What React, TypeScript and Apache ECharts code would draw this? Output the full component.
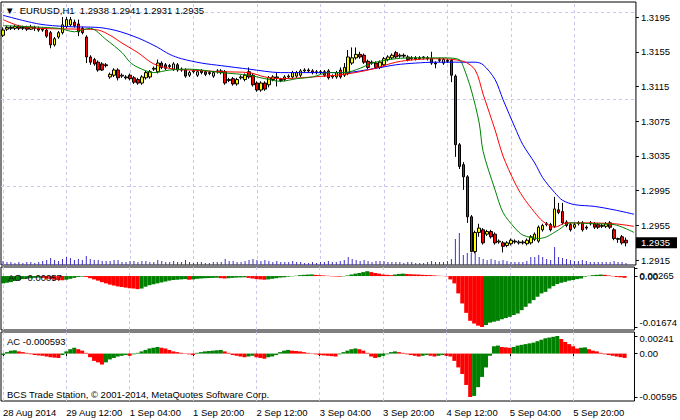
import React, { useEffect, useRef } from 'react';
import * as echarts from 'echarts';

const timeLabels = ['28 Aug 2014', '29 Aug 12:00', '1 Sep 04:00', '1 Sep 20:00', '2 Sep 12:00', '3 Sep 04:00', '3 Sep 20:00', '4 Sep 12:00', '5 Sep 04:00', '5 Sep 20:00'];
const priceTicks = [1.2915, 1.2955, 1.2995, 1.3035, 1.3075, 1.3115, 1.3155, 1.3195];
const aoTicks = [0.00265, 0, -0.01674];
const acTicks = [0.00241, 0, -0.00595];
const lastPrice = 1.2935;
const headerText = '▼  EURUSD,H1  1.2938 1.2941 1.2931 1.2935';
const aoText = 'AO -0.00057';
const acText = 'AC -0.000593';
const copyright = 'BCS Trade Station, © 2001-2014, MetaQuotes Software Corp.';

// [open, close, low, high]
const candles = [
  [1.3174, 1.3180, 1.3172, 1.3183], [1.3181, 1.3183, 1.3179, 1.3185], [1.3183, 1.3182, 1.3180, 1.3185], [1.3182, 1.3184, 1.3180, 1.3186], [1.3184, 1.3182, 1.3180, 1.3186],
  [1.3182, 1.3183, 1.3180, 1.3185], [1.3183, 1.3181, 1.3179, 1.3185], [1.3181, 1.3183, 1.3180, 1.3186], [1.3183, 1.3182, 1.3179, 1.3185], [1.3182, 1.3180, 1.3178, 1.3184],
  [1.3180, 1.3181, 1.3178, 1.3183], [1.3180, 1.3173, 1.3171, 1.3182], [1.3177, 1.3163, 1.3159, 1.3179], [1.3163, 1.3170, 1.3161, 1.3172], [1.3172, 1.3177, 1.3170, 1.3179],
  [1.3177, 1.3186, 1.3175, 1.3195], [1.3184, 1.3192, 1.3182, 1.3195], [1.3186, 1.3192, 1.3184, 1.3195], [1.3189, 1.3185, 1.3183, 1.3192], [1.3187, 1.3178, 1.3173, 1.3192],
  [1.3182, 1.3177, 1.3175, 1.3184], [1.3172, 1.3149, 1.3142, 1.3174], [1.3149, 1.3143, 1.3140, 1.3151], [1.3146, 1.3141, 1.3139, 1.3148], [1.3143, 1.3134, 1.3132, 1.3145],
  [1.3141, 1.3134, 1.3133, 1.3143], [1.3140, 1.3139, 1.3137, 1.3142], [1.3126, 1.3129, 1.3124, 1.3131], [1.3128, 1.3134, 1.3126, 1.3136], [1.3134, 1.3125, 1.3122, 1.3136],
  [1.3127, 1.3128, 1.3125, 1.3130], [1.3126, 1.3125, 1.3123, 1.3128], [1.3128, 1.3124, 1.3122, 1.3130], [1.3125, 1.3120, 1.3118, 1.3127], [1.3123, 1.3119, 1.3117, 1.3125],
  [1.3119, 1.3126, 1.3117, 1.3128], [1.3125, 1.3131, 1.3123, 1.3133], [1.3126, 1.3132, 1.3124, 1.3134], [1.3135, 1.3136, 1.3133, 1.3138], [1.3132, 1.3142, 1.3130, 1.3146],
  [1.3142, 1.3137, 1.3135, 1.3144], [1.3140, 1.3136, 1.3134, 1.3142], [1.3139, 1.3138, 1.3136, 1.3141], [1.3135, 1.3141, 1.3133, 1.3143], [1.3140, 1.3134, 1.3132, 1.3142],
  [1.3134, 1.3135, 1.3132, 1.3137], [1.3134, 1.3127, 1.3125, 1.3136], [1.3128, 1.3131, 1.3126, 1.3133], [1.3132, 1.3133, 1.3130, 1.3135], [1.3128, 1.3132, 1.3126, 1.3134],
  [1.3133, 1.3131, 1.3129, 1.3135], [1.3132, 1.3129, 1.3127, 1.3134], [1.3131, 1.3130, 1.3128, 1.3133], [1.3127, 1.3131, 1.3125, 1.3133], [1.3132, 1.3133, 1.3130, 1.3135],
  [1.3133, 1.3131, 1.3129, 1.3135], [1.3132, 1.3119, 1.3117, 1.3134], [1.3123, 1.3122, 1.3120, 1.3125], [1.3124, 1.3118, 1.3116, 1.3126], [1.3118, 1.3123, 1.3116, 1.3125],
  [1.3125, 1.3126, 1.3123, 1.3128], [1.3123, 1.3128, 1.3121, 1.3130], [1.3132, 1.3126, 1.3124, 1.3137], [1.3128, 1.3117, 1.3115, 1.3130], [1.3119, 1.3111, 1.3109, 1.3121],
  [1.3111, 1.3119, 1.3109, 1.3121], [1.3119, 1.3112, 1.3110, 1.3121], [1.3117, 1.3125, 1.3114, 1.3127], [1.3123, 1.3126, 1.3121, 1.3128], [1.3125, 1.3126, 1.3115, 1.3131],
  [1.3123, 1.3122, 1.3120, 1.3125], [1.3123, 1.3126, 1.3121, 1.3128], [1.3126, 1.3127, 1.3124, 1.3129], [1.3126, 1.3131, 1.3124, 1.3133], [1.3127, 1.3131, 1.3125, 1.3133],
  [1.3128, 1.3133, 1.3126, 1.3135], [1.3133, 1.3134, 1.3131, 1.3136], [1.3134, 1.3133, 1.3131, 1.3136], [1.3133, 1.3131, 1.3129, 1.3135], [1.3131, 1.3132, 1.3129, 1.3134],
  [1.3132, 1.3131, 1.3129, 1.3134], [1.3132, 1.3128, 1.3126, 1.3134], [1.3133, 1.3125, 1.3123, 1.3135], [1.3126, 1.3127, 1.3124, 1.3129], [1.3126, 1.3131, 1.3124, 1.3133],
  [1.3134, 1.3126, 1.3124, 1.3137], [1.3128, 1.3137, 1.3126, 1.3142], [1.3130, 1.3149, 1.3128, 1.3157], [1.3142, 1.3148, 1.3140, 1.3160], [1.3148, 1.3152, 1.3146, 1.3160],
  [1.3152, 1.3149, 1.3147, 1.3155], [1.3151, 1.3143, 1.3141, 1.3153], [1.3144, 1.3137, 1.3135, 1.3146], [1.3142, 1.3143, 1.3140, 1.3145], [1.3142, 1.3137, 1.3135, 1.3144],
  [1.3137, 1.3143, 1.3135, 1.3145], [1.3140, 1.3147, 1.3138, 1.3149], [1.3146, 1.3149, 1.3144, 1.3151], [1.3148, 1.3151, 1.3146, 1.3153], [1.3154, 1.3149, 1.3147, 1.3156],
  [1.3150, 1.3151, 1.3148, 1.3153], [1.3151, 1.3150, 1.3148, 1.3153], [1.3149, 1.3146, 1.3144, 1.3151], [1.3147, 1.3148, 1.3145, 1.3150], [1.3148, 1.3147, 1.3145, 1.3150],
  [1.3147, 1.3148, 1.3146, 1.3150], [1.3148, 1.3149, 1.3146, 1.3150], [1.3148, 1.3147, 1.3145, 1.3150], [1.3147, 1.3142, 1.3140, 1.3155], [1.3142, 1.3141, 1.3136, 1.3144],
  [1.3145, 1.3146, 1.3143, 1.3148], [1.3142, 1.3146, 1.3140, 1.3148], [1.3145, 1.3144, 1.3142, 1.3147], [1.3145, 1.3128, 1.3120, 1.3147], [1.3127, 1.3048, 1.3034, 1.3129],
  [1.3048, 1.3023, 1.3020, 1.3050], [1.3025, 1.3011, 1.2996, 1.3028], [1.3011, 1.2965, 1.2958, 1.3013], [1.2965, 1.2925, 1.2924, 1.2967], [1.2925, 1.2947, 1.2923, 1.2949],
  [1.2947, 1.2952, 1.2942, 1.2957], [1.2950, 1.2935, 1.2933, 1.2952], [1.2945, 1.2948, 1.2943, 1.2950], [1.2948, 1.2942, 1.2940, 1.2950], [1.2945, 1.2935, 1.2933, 1.2947],
  [1.2936, 1.2937, 1.2934, 1.2939], [1.2935, 1.2931, 1.2924, 1.2937], [1.2932, 1.2935, 1.2930, 1.2937], [1.2934, 1.2938, 1.2932, 1.2940], [1.2937, 1.2936, 1.2934, 1.2939],
  [1.2935, 1.2936, 1.2933, 1.2938], [1.2936, 1.2935, 1.2933, 1.2938], [1.2934, 1.2938, 1.2932, 1.2940], [1.2935, 1.2942, 1.2933, 1.2944], [1.2939, 1.2945, 1.2937, 1.2947],
  [1.2937, 1.2953, 1.2935, 1.2955], [1.2950, 1.2955, 1.2948, 1.2957], [1.2956, 1.2957, 1.2954, 1.2959], [1.2956, 1.2950, 1.2948, 1.2958], [1.2954, 1.2974, 1.2952, 1.2988],
  [1.2973, 1.2970, 1.2968, 1.2981], [1.2971, 1.2958, 1.2956, 1.2981], [1.2959, 1.2955, 1.2953, 1.2961], [1.2956, 1.2950, 1.2948, 1.2958], [1.2953, 1.2956, 1.2951, 1.2958],
  [1.2957, 1.2958, 1.2955, 1.2960], [1.2958, 1.2950, 1.2948, 1.2960], [1.2953, 1.2952, 1.2950, 1.2955], [1.2957, 1.2958, 1.2955, 1.2960], [1.2957, 1.2953, 1.2951, 1.2959],
  [1.2956, 1.2953, 1.2951, 1.2958], [1.2954, 1.2955, 1.2952, 1.2957], [1.2954, 1.2957, 1.2952, 1.2959], [1.2958, 1.2953, 1.2951, 1.2960], [1.2950, 1.2940, 1.2938, 1.2952],
  [1.2939, 1.2940, 1.2935, 1.2941], [1.2942, 1.2935, 1.2933, 1.2944], [1.2938, 1.2935, 1.2931, 1.2941],
];

const volumes = [
  400, 300, 300, 200, 300, 200, 300, 300, 200, 300, 400,
  500, 700, 500, 400, 600, 800, 700, 500, 600, 500,
  900, 600, 500, 500, 400, 400, 400, 500, 500, 300,
  300, 400, 400, 300, 400, 400, 300, 300, 500, 400,
  300, 300, 400, 300, 300, 500, 300, 200, 300, 300,
  200, 200, 300, 300, 300, 600, 400, 400, 300, 300,
  400, 500, 600, 500, 400, 500, 400, 300, 400, 300,
  300, 300, 400, 300, 300, 200, 200, 300, 200, 300,
  300, 400, 300, 300, 400, 500, 800, 600, 500, 400,
  500, 400, 300, 400, 400, 400, 300, 300, 300, 300,
  200, 300, 300, 200, 200, 200, 300, 400, 300, 300, 300, 400,
  600, 2600, 3200, 1000, 1200, 1200, 1600, 800,
  600, 500, 600, 500, 400, 500, 400, 300, 300, 300,
  300, 400, 800, 800, 1000, 800, 600, 500,
  1800,
  800, 700, 600, 500, 400, 400, 500, 400, 300, 300,
  300, 300, 300, 300, 400, 300, 300, 200,
];

// Alligator lines: [bar index, price]
const jawPoints = [
  [0, 1.3197], [9, 1.3187], [16, 1.3184], [24, 1.3183], [28, 1.3180], [31, 1.3176], [35, 1.3169], [39, 1.3160], [42, 1.3152], [45, 1.3147],
  [50, 1.3142], [55, 1.3139], [62, 1.3135], [70, 1.3131], [78, 1.3131], [86, 1.3131], [94, 1.3136], [99, 1.3140], [104, 1.3142], [109, 1.3143],
  [119, 1.3143], [121, 1.3140], [124, 1.3123], [126, 1.3100], [129, 1.3068], [131, 1.3048], [134, 1.3027], [136, 1.3010], [139, 1.2993], [141, 1.2984],
  [144, 1.2979], [149, 1.2977], [154, 1.2973], [159, 1.2968],
];
const teethPoints = [
  [0, 1.3192], [4, 1.3185], [9, 1.3182], [20, 1.3181], [24, 1.3180], [27, 1.3174], [30, 1.3165], [34, 1.3154], [38, 1.3141], [43, 1.3135],
  [47, 1.3134], [55, 1.3132], [62, 1.3131], [66, 1.3126], [70, 1.3124], [78, 1.3126], [86, 1.3129], [93, 1.3135], [99, 1.3143], [104, 1.3146],
  [109, 1.3147], [116, 1.3144], [119, 1.3134], [121, 1.3106], [124, 1.3065], [126, 1.3035], [129, 1.3004], [131, 1.2988], [134, 1.2970], [136, 1.2960],
  [139, 1.2953], [142, 1.2958], [146, 1.2958], [154, 1.2957], [159, 1.2954],
];
const lipsPoints = [
  [0, 1.3185], [14, 1.3182], [18, 1.3178], [22, 1.3182], [26, 1.3169], [30, 1.3154], [32, 1.3143], [34, 1.3137], [38, 1.3131], [42, 1.3134],
  [47, 1.3135], [55, 1.3131], [62, 1.3128], [66, 1.3124], [70, 1.3121], [74, 1.3124], [78, 1.3126], [82, 1.3131], [86, 1.3131], [90, 1.3136],
  [93, 1.3142], [99, 1.3147], [104, 1.3148], [111, 1.3148], [115, 1.3146], [116, 1.3138], [118, 1.3111], [120, 1.3073], [121, 1.3040], [124, 1.2996],
  [126, 1.2970], [129, 1.2952], [131, 1.2944], [135, 1.2940], [137, 1.2942], [140, 1.2950], [143, 1.2958], [149, 1.2957], [154, 1.2956], [159, 1.2947],
];

const aoValues = [
  -0.0024, -0.0022, -0.0020, -0.0016, -0.0013, -0.0010, -0.0008, -0.0007, -0.0006, -0.0005,
  -0.0006, -0.0008, -0.0010, -0.0012, -0.0013, -0.0014, -0.0012, -0.0009, -0.0006, -0.0003,
  -0.0002, -0.0003, -0.0007, -0.0011, -0.0015, -0.0020, -0.0024, -0.0028, -0.0031, -0.0034,
  -0.0036, -0.0038, -0.0040, -0.0041, -0.0043, -0.0041, -0.0035, -0.0030, -0.0027, -0.0024,
  -0.0021, -0.0018, -0.0015, -0.0013, -0.0012, -0.0011, -0.0010, -0.0012, -0.0011, -0.0009,
  -0.0008, -0.0007, -0.00065, -0.0006, -0.00055, -0.0007, -0.0008, -0.0007, -0.0006, -0.0005,
  -0.00045, -0.0004, -0.0006, -0.0008, -0.0010, -0.0011, -0.0012, -0.0011, -0.0009, -0.0007,
  -0.0005, -0.0004, -0.0002, -0.0001, 0.0001, 0.0003, 0.0004, 0.0005, 0.00055, 0.0004,
  0.0003, 0.0002, 0.0001, -0.0001, -0.00015, -0.0002, -0.0001, 0.0002, 0.0005, 0.0008,
  0.0010, 0.0013, 0.0016, 0.0013, 0.0010, 0.0008, 0.0005, 0.0004, 0.0003, 0.0005,
  0.0007, 0.0008, 0.0007, 0.0006, 0.00055, 0.0005, 0.0004, 0.00035, 0.0003, 0.0002,
  0.0001, 0.00005, -0.0001, -0.0011, -0.0024, -0.0057, -0.0090, -0.0121, -0.0147, -0.0156,
  -0.0163, -0.01674, -0.0161, -0.0153, -0.0150, -0.0147, -0.0142, -0.0138, -0.0134, -0.0128,
  -0.0123, -0.0112, -0.0101, -0.0090, -0.0079, -0.0068, -0.0057, -0.0052, -0.0041, -0.0033,
  -0.0026, -0.0022, -0.0019, -0.0015, -0.0013, -0.0010, -0.0008, -0.0002, 0.0001, 0.0003,
  0.0004, 0.0005, 0.0004, 0.0002, -0.0001, -0.0003, -0.0004, -0.00057,
];

const acValues = [
  -0.0002, 0.0002, 0.0004, 0.00045, 0.0003, 0.0002, 0.0001, -0.0001, -0.0002, -0.00025,
  -0.0003, -0.0004, -0.0005, -0.00055, -0.0006, -0.0002, 0.0003, 0.0006, 0.0008, 0.0006,
  0.0004, 0.0001, -0.0005, -0.0010, -0.0012, -0.0015, -0.0012, -0.0008, -0.0006, -0.0004,
  -0.0003, -0.0002, -0.0003, -0.0001, 0.0001, 0.0003, 0.0005, 0.0007, 0.0008, 0.0009,
  0.0008, 0.0007, 0.0005, 0.0003, 0.0002, 0.0001, 0.00005, -0.0001, -0.0002, 0.0001,
  0.0002, 0.0003, 0.00035, 0.0004, 0.00045, 0.0005, 0.0003, 0.0001, -0.0002, -0.0003,
  -0.0004, -0.0005, -0.0004, -0.0003, -0.0005, -0.0006, -0.0007, -0.0005, -0.0004, -0.0002,
  0.0002, 0.0004, 0.0005, 0.0004, 0.00035, 0.0003, 0.0002, 0.0001, 0.00005, -0.0001,
  -0.0002, -0.00025, -0.0003, -0.00035, -0.0004, -0.0001, 0.0002, 0.0004, 0.0006, 0.0007,
  0.0006, 0.0004, 0.0001, -0.0004, -0.0006, -0.0005, -0.0003, -0.0001, 0.0002, 0.0003,
  0.0002, 0.0001, -0.0001, -0.0002, -0.0003, -0.0004, -0.0003, -0.0002, -0.0003, -0.0004,
  -0.0003, -0.0002, -0.0003, -0.0004, -0.0010, -0.0019, -0.0028, -0.0043, -0.00595, -0.0058,
  -0.0046, -0.0032, -0.0019, -0.0003, 0.0010, 0.0011, 0.0009, 0.00085, 0.0008, 0.0009,
  0.0011, 0.0012, 0.0013, 0.0014, 0.0015, 0.0017, 0.0019, 0.0021, 0.0022, 0.0023,
  0.00241, 0.0020, 0.0016, 0.0013, 0.0010, 0.0007, 0.0008, 0.00085, 0.0006, 0.0004,
  0.0003, 0.0001, -0.0001, -0.0002, -0.0003, -0.0004, -0.0005, -0.000593,
];

const SLOTS = 160;
const LABEL_STEP = 16;
const FONT = 'Liberation Sans, Arial, sans-serif';
const FS = 9.5;
const GREEN = '#008000';
const RED = '#ff0000';
const GRID_LINE = { color: '#c8c8ec', type: [3, 3] as number[], width: 1 };

const PRICE_MIN = 1.29095;
const PRICE_MAX = 1.32123;
const AO_MIN = -0.017726;
const AO_MAX = 0.002979;
const AC_MIN = -0.006498;
const AC_MAX = 0.002958;

function histogram(values: number[]) {
  return values.map((v, i) => ({
    value: v,
    itemStyle: { color: i > 0 && v < values[i - 1] ? RED : GREEN },
  }));
}

const sideFormatter = (v: number) =>
  v === 0 ? '{z|0.00}' : v > 0 ? `{t|${v.toFixed(5)}}` : `{b|${v.toFixed(5)}}`;

export default function App() {
  const ref = useRef<HTMLDivElement>(null);

  useEffect(() => {
    const chart = echarts.init(ref.current!, null, { renderer: 'svg' });
    const slots = Array.from({ length: SLOTS }, (_, i) => String(i));
    const vGrid = timeLabels.map((_, k) => ({ xAxis: k * LABEL_STEP }));
    const txt = { fontFamily: FONT, fontSize: FS, fontWeight: 'normal', color: '#000' };

    const gridLinesSeries = (xi: number, yi: number, extra: any[] = []) => ({
      type: 'line',
      xAxisIndex: xi,
      yAxisIndex: yi,
      data: [],
      silent: true,
      markLine: {
        silent: true,
        z: 1,
        symbol: ['none', 'none'],
        label: { show: false },
        lineStyle: GRID_LINE,
        animation: false,
        data: [...vGrid, ...extra],
      },
    });

    const sideAxis = (grid: number, min: number, max: number, values: number[], rich: any) => ({
      type: 'value',
      gridIndex: grid,
      position: 'right',
      min,
      max,
      axisLine: { show: false },
      splitLine: { show: false },
      axisTick: { show: true, length: 3, customValues: values, lineStyle: { color: '#000' } },
      axisLabel: {
        customValues: values,
        margin: 5,
        color: '#000',
        hideOverlap: false,
        formatter: sideFormatter,
        rich,
      },
    });

    const tok = (pad: number[]) => ({ fontSize: FS, fontFamily: FONT, color: '#000', padding: pad });

    const option: any = {
      animation: false,
      backgroundColor: '#ffffff',
      textStyle: { fontFamily: FONT, fontSize: FS, color: '#000' },
      title: [
        { text: headerText, left: 5, top: 5, padding: 0, textStyle: txt },
        { text: aoText, left: 8, top: 272, padding: 0, textStyle: txt },
        { text: acText, left: 7, top: 336, padding: 0, textStyle: txt },
        { text: copyright, left: 7, top: 389, padding: 0, textStyle: txt },
      ],
      grid: [
        { left: 1, top: 2, width: 640, height: 263, show: true, borderColor: '#000', borderWidth: 1 },
        { left: 1, top: 267, width: 640, height: 63, show: true, borderColor: '#000', borderWidth: 1 },
        { left: 1, top: 332, width: 640, height: 69, show: true, borderColor: '#000', borderWidth: 1 },
      ],
      xAxis: [0, 1, 2].map((g) => ({
        type: 'category',
        gridIndex: g,
        data: slots,
        boundaryGap: true,
        axisLine: { show: false },
        splitLine: { show: false },
        axisTick: g === 2
          ? { show: true, interval: LABEL_STEP - 1, alignWithLabel: true, length: 5, lineStyle: { color: '#000' } }
          : { show: false },
        axisLabel: g === 2
          ? {
              show: true,
              interval: LABEL_STEP - 1,
              align: 'left',
              margin: 6,
              fontSize: FS,
              fontFamily: FONT,
              color: '#000',
              hideOverlap: false,
              formatter: (_v: string, idx: number) => timeLabels[idx / LABEL_STEP] ?? '',
            }
          : { show: false },
      })),
      yAxis: [
        {
          type: 'value',
          gridIndex: 0,
          position: 'right',
          min: PRICE_MIN,
          max: PRICE_MAX,
          axisLine: { show: false },
          splitLine: { show: false },
          axisTick: { show: true, length: 3, customValues: priceTicks, lineStyle: { color: '#000' } },
          axisLabel: {
            customValues: priceTicks,
            margin: 5,
            fontSize: FS,
            fontFamily: FONT,
            color: '#000',
            hideOverlap: false,
            formatter: (v: number) => v.toFixed(4),
          },
        },
        { type: 'value', gridIndex: 0, min: 0, max: 26300, show: false },
        sideAxis(1, AO_MIN, AO_MAX, aoTicks.filter((v) => v !== 0), { t: tok([14, 0, 0, 0]), z: tok([0, 0, 0, 0]), b: tok([0, 0, 8, 0]) }),
        sideAxis(2, AC_MIN, AC_MAX, acTicks, { t: tok([6, 0, 0, 0]), z: tok([0, 0, 0, 0]), b: tok([0, 0, 2, 0]) }),
        // zero label of the AO window (drawn on its own axis so it may overlap the top label, as in MT4)
        sideAxis(1, AO_MIN, AO_MAX, aoTicks.filter((v) => v === 0), { t: tok([0, 0, 0, 0]), z: tok([0, 0, 0, 0]), b: tok([0, 0, 0, 0]) }),
        // last price tag
        {
          type: 'value',
          gridIndex: 0,
          position: 'right',
          min: PRICE_MIN,
          max: PRICE_MAX,
          axisLine: { show: false },
          splitLine: { show: false },
          axisTick: { show: false },
          axisLabel: {
            customValues: [lastPrice],
            margin: 0,
            fontSize: FS,
            fontFamily: FONT,
            color: '#fff',
            backgroundColor: '#000',
            padding: [1, 7, 0, 5],
            hideOverlap: false,
            formatter: (v: number) => v.toFixed(4),
          },
        },
      ],
      series: [
        gridLinesSeries(0, 0, priceTicks.map((p) => ({ yAxis: p }))),
        {
          type: 'line',
          xAxisIndex: 0,
          yAxisIndex: 0,
          data: [],
          silent: true,
          markLine: {
            silent: true,
            z: 1,
            symbol: ['none', 'none'],
            lineStyle: { color: '#c8c8c8', type: 'solid', width: 1 },
            label: { show: false },
            data: [{ yAxis: lastPrice }],
          },
        },
        gridLinesSeries(1, 2),
        gridLinesSeries(2, 3),
        {
          type: 'bar',
          xAxisIndex: 0,
          yAxisIndex: 1,
          data: volumes,
          barWidth: 1,
          itemStyle: { color: '#3f30c8' },
          silent: true,
          z: 2,
        },
        {
          type: 'candlestick',
          xAxisIndex: 0,
          yAxisIndex: 0,
          data: candles,
          barWidth: 3,
          z: 3,
          itemStyle: { color: '#ffff00', color0: '#ff0000', borderColor: '#000', borderColor0: '#000', borderWidth: 1 },
        },
        { type: 'line', xAxisIndex: 0, yAxisIndex: 0, data: jawPoints, smooth: 0.3, showSymbol: false, z: 4, lineStyle: { color: '#0000ff', width: 1 } },
        { type: 'line', xAxisIndex: 0, yAxisIndex: 0, data: teethPoints, smooth: 0.3, showSymbol: false, z: 4, lineStyle: { color: '#ff0000', width: 1 } },
        { type: 'line', xAxisIndex: 0, yAxisIndex: 0, data: lipsPoints, smooth: 0.3, showSymbol: false, z: 4, lineStyle: { color: '#008000', width: 1 } },
        {
          type: 'bar',
          xAxisIndex: 1,
          yAxisIndex: 2,
          data: histogram(aoValues),
          barWidth: 4,
          z: 2,
        },
        {
          type: 'bar',
          xAxisIndex: 2,
          yAxisIndex: 3,
          data: histogram(acValues),
          barWidth: 4,
          z: 2,
        },
      ],
    };

    chart.setOption(option);
    return () => chart.dispose();
  }, []);

  return <div ref={ref} style={{ position: 'absolute', left: 0, top: 0, width: 680, height: 420 }} />;
}
